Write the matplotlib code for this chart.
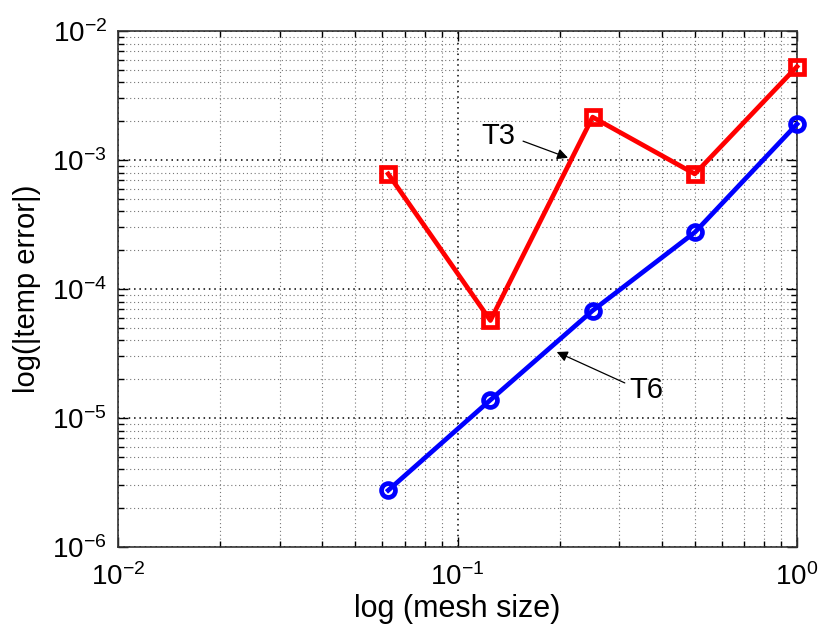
import matplotlib
matplotlib.use("Agg")
import matplotlib.pyplot as plt
from matplotlib.ticker import LogLocator, NullFormatter

plt.rcParams['font.family'] = ['Liberation Sans', 'DejaVu Sans']
plt.rcParams['mathtext.fontset'] = 'custom'
plt.rcParams['mathtext.rm'] = 'Liberation Sans'
plt.rcParams['mathtext.default'] = 'regular'

mesh_size = [0.0625, 0.125, 0.25, 0.5, 1.0]
t3_error = [7.8e-4, 5.7e-5, 2.15e-3, 7.8e-4, 5.3e-3]
t6_error = [2.75e-6, 1.38e-5, 6.8e-5, 2.75e-4, 1.9e-3]
xticks = [1e-2, 1e-1, 1e0]
xticklabels = ['$10^{-2}$', '$10^{-1}$', '$10^{0}$']
yticks = [1e-6, 1e-5, 1e-4, 1e-3, 1e-2]
yticklabels = ['$10^{-6}$', '$10^{-5}$', '$10^{-4}$', '$10^{-3}$', '$10^{-2}$']

fig = plt.figure(figsize=(8.19, 6.35), dpi=100)
ax = fig.add_axes([118/819, 1-547/635, (797-118)/819, (547-31)/635])

ax.plot(mesh_size, t3_error, color='#ff0000', lw=3.4, marker='s', ms=10,
        mfc='none', mec='#ff0000', mew=3.4, zorder=3, clip_on=False)
ax.plot(mesh_size, t6_error, color='#0000ff', lw=3.4, marker='o', ms=10,
        mfc='none', mec='#0000ff', mew=3.4, zorder=3, clip_on=False)

ax.set_xscale('log')
ax.set_yscale('log')
ax.set_xlim(1e-2, 1e0)
ax.set_ylim(1e-6, 1e-2)
ax.set_xticks(xticks)
ax.set_xticklabels(xticklabels)
ax.set_yticks(yticks)
ax.set_yticklabels(yticklabels)
ax.xaxis.set_minor_locator(LogLocator(base=10, subs=range(2, 10)))
ax.yaxis.set_minor_locator(LogLocator(base=10, subs=range(2, 10)))
ax.xaxis.set_minor_formatter(NullFormatter())
ax.yaxis.set_minor_formatter(NullFormatter())

ax.grid(True, which='major', linestyle=(0, (1, 2.5)), color='black', lw=1.1)
ax.grid(True, which='minor', linestyle=(0, (1, 2.5)), color='#777777', lw=0.8)
ax.set_axisbelow(True)

ax.tick_params(which='both', direction='in', top=True, right=True,
               labelsize=20, colors='black')
ax.tick_params(which='major', length=7, width=1)
ax.tick_params(which='minor', length=4, width=1)
ax.tick_params(axis='x', pad=12)
ax.tick_params(axis='y', pad=8)
for s in ax.spines.values():
    s.set_color('#333333')
    s.set_linewidth(1.2)

ax.set_xlabel('log (mesh size)', fontsize=22, labelpad=2)
ax.set_ylabel('log(|temp error|)', fontsize=21, labelpad=8)

# T3 annotation
ax.text(0.1315, 1.53e-3, 'T3', fontsize=21, ha='center', va='center')
ax.annotate('', xy=(0.2116, 1.04e-3), xytext=(0.156, 1.40e-3),
            arrowprops=dict(arrowstyle='-|>', color='black', lw=0.9,
                            shrinkA=0, shrinkB=0, mutation_scale=16))
# T6 annotation
ax.text(0.361, 1.65e-5, 'T6', fontsize=21, ha='center', va='center')
ax.annotate('', xy=(0.196, 3.25e-5), xytext=(0.311, 1.87e-5),
            arrowprops=dict(arrowstyle='-|>', color='black', lw=0.9,
                            shrinkA=0, shrinkB=0, mutation_scale=16))

fig.savefig('out.png', dpi=100)
